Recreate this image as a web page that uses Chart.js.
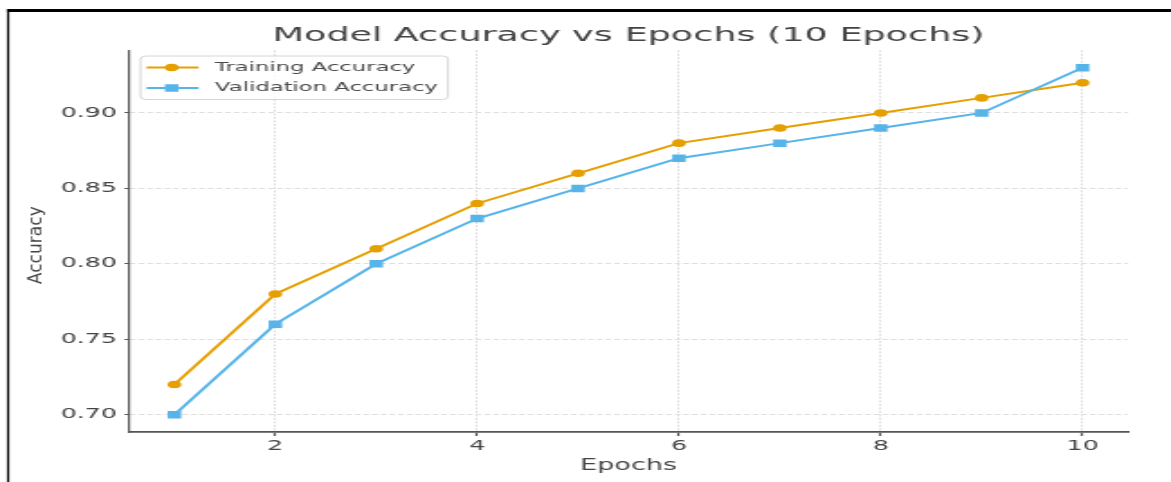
<!DOCTYPE html>
<html><head><meta charset="utf-8">
<script src="https://cdn.jsdelivr.net/npm/chart.js@4.4.1/dist/chart.umd.min.js"></script>
<style>
html,body{margin:0;padding:0;background:#fff;overflow:hidden;}
#wrap{width:650px;height:482px;transform:scaleX(1.801538);transform-origin:0 0;}
canvas{display:block;}
</style></head><body>
<div id="wrap"><canvas id="c" width="650" height="482"></canvas></div>
<script>
const epochs = [1, 2, 3, 4, 5, 6, 7, 8, 9, 10];
const trainingAccuracy = [0.72, 0.78, 0.81, 0.84, 0.86, 0.88, 0.89, 0.90, 0.91, 0.92];
const validationAccuracy = [0.70, 0.76, 0.80, 0.83, 0.85, 0.87, 0.88, 0.89, 0.90, 0.93];
const xTickValues = [2, 4, 6, 8, 10];
const yTickValues = [0.70, 0.75, 0.80, 0.85, 0.90];
const seriesLabels = ['Training Accuracy', 'Validation Accuracy'];
const titleText = 'Model Accuracy vs Epochs (10 Epochs)';
const xTitle = 'Epochs';
const yTitle = 'Accuracy';

const K = 1171 / 650;
const FONT = "'DejaVu Sans', 'Noto Sans', sans-serif";
const ORANGE = '#E69F00';
const BLUE = '#56B4E9';
const TEXT = '#444444';

const decor = {
  id: 'decor',
  beforeDraw(chart) {
    const ctx = chart.ctx;
    ctx.save();
    ctx.fillStyle = '#ffffff';
    ctx.fillRect(0, 0, chart.width, chart.height);
    ctx.fillStyle = '#000000';
    ctx.fillRect(7 / K, 9, chart.width, 3);
    ctx.fillRect(7 / K, 9, 2.2 / K, chart.height);
    ctx.restore();
  },
  afterDraw(chart) {
    const ctx = chart.ctx;
    const ca = chart.chartArea;
    // y axis title
    ctx.save();
    ctx.translate(36.5 / K, (ca.top + ca.bottom) / 2 + 4);
    ctx.scale(1 / K, 1);
    ctx.rotate(-Math.PI / 2);
    ctx.scale(0.9, 1);
    ctx.font = '19px ' + FONT;
    ctx.fillStyle = TEXT;
    ctx.textAlign = 'center';
    ctx.textBaseline = 'middle';
    ctx.fillText(yTitle, 0, 0);
    ctx.restore();
    // legend
    ctx.save();
    const x0 = 140.5 / K, y0 = 56, x1 = 448 / K, y1 = 99.5, r = 3;
    ctx.beginPath();
    ctx.moveTo(x0 + r, y0);
    ctx.lineTo(x1 - r, y0); ctx.quadraticCurveTo(x1, y0, x1, y0 + r);
    ctx.lineTo(x1, y1 - r); ctx.quadraticCurveTo(x1, y1, x1 - r, y1);
    ctx.lineTo(x0 + r, y1); ctx.quadraticCurveTo(x0, y1, x0, y1 - r);
    ctx.lineTo(x0, y0 + r); ctx.quadraticCurveTo(x0, y0, x0 + r, y0);
    ctx.closePath();
    ctx.fillStyle = 'rgba(255,255,255,0.85)';
    ctx.fill();
    ctx.strokeStyle = '#d6d6d6';
    ctx.lineWidth = 1;
    ctx.stroke();
    const rows = [67.5, 88];
    chart.data.datasets.forEach((ds, i) => {
      const y = rows[i];
      ctx.strokeStyle = ds.borderColor;
      ctx.lineWidth = ds.borderWidth;
      ctx.beginPath();
      ctx.moveTo(146.5 / K, y);
      ctx.lineTo(198.5 / K, y);
      ctx.stroke();
      ctx.fillStyle = ds.pointBackgroundColor;
      Chart.helpers.drawPoint(ctx, {pointStyle: ds.pointStyle, radius: ds.pointRadius, rotation: 0, borderWidth: 0}, 171.7 / K, y);
      ctx.font = '12.6px ' + FONT;
      ctx.fillStyle = '#4a4a4a';
      ctx.textAlign = 'left';
      ctx.textBaseline = 'middle';
      ctx.fillText(ds.label, 215 / K, y);
    });
    ctx.restore();
  }
};

const toPoints = (ys) => epochs.map((e, i) => ({x: e, y: ys[i]}));

new Chart(document.getElementById('c'), {
  type: 'line',
  data: {
    datasets: [
      {
        label: seriesLabels[0], data: toPoints(trainingAccuracy),
        borderColor: ORANGE, backgroundColor: ORANGE, borderWidth: 2,
        pointStyle: 'circle', pointRadius: 3.8, pointBorderWidth: 0,
        pointBackgroundColor: ORANGE, tension: 0, order: 1
      },
      {
        label: seriesLabels[1], data: toPoints(validationAccuracy),
        borderColor: BLUE, backgroundColor: BLUE, borderWidth: 2,
        pointStyle: 'rect', pointRadius: 5.3, pointBorderWidth: 0,
        pointBackgroundColor: BLUE, tension: 0, order: 0
      }
    ]
  },
  options: {
    responsive: false,
    animation: false,
    devicePixelRatio: 1,
    layout: {padding: {left: 0, right: 650 - 1128 / K, top: 0, bottom: 0}},
    plugins: {
      legend: {display: false},
      tooltip: {enabled: false},
      title: {
        display: true, text: titleText, fullSize: false,
        font: {family: FONT, size: 20.3, weight: 'normal'}, color: TEXT,
        padding: {top: 24, bottom: 2}
      }
    },
    scales: {
      x: {
        type: 'linear', min: 0.55, max: 10.45,
        afterBuildTicks: (s) => { s.ticks = xTickValues.map(v => ({value: v})); },
        afterFit: (s) => { s.height = 50; },
        grid: {color: '#dedede', lineWidth: 1, tickLength: 4, tickColor: '#555', tickWidth: 1.2, tickBorderDash: []},
        border: {display: true, color: '#555', width: 1.8, dash: [2, 1.5]},
        ticks: {font: {family: FONT, size: 14}, color: TEXT, padding: 2, maxRotation: 0, autoSkip: false, callback: (v) => String(v)},
        title: {display: true, text: xTitle, font: {family: FONT, size: 15}, color: TEXT, padding: {top: 0, bottom: 7}}
      },
      y: {
        type: 'linear', min: 0.6885, max: 0.9415,
        afterBuildTicks: (s) => { s.ticks = yTickValues.map(v => ({value: v})); },
        afterFit: (s) => { s.width = 129 / K; },
        grid: {color: '#dedede', lineWidth: 1, tickLength: 2.5, tickColor: '#555', tickWidth: 1.2, tickBorderDash: []},
        border: {display: true, color: '#555', width: 1.2, dash: [3, 1.8]},
        ticks: {font: {family: FONT, size: 14}, color: TEXT, padding: 4.3, autoSkip: false, callback: (v) => v.toFixed(2)}
      }
    }
  },
  plugins: [decor]
});
</script>
</body></html>
